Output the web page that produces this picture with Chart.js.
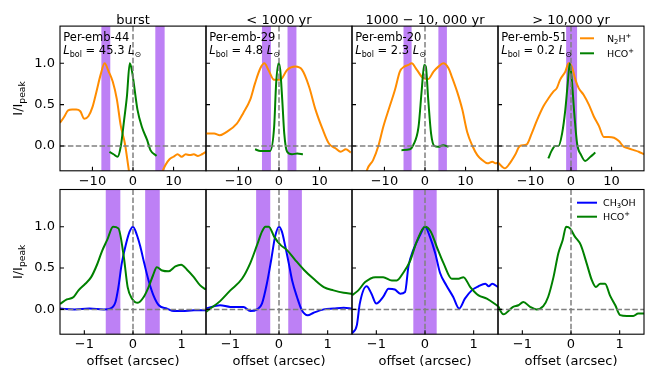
<!DOCTYPE html>
<html>
<head>
<meta charset="utf-8">
<script src="https://cdn.jsdelivr.net/npm/chart.js@4.4.1/dist/chart.umd.min.js"></script>
<style>
  body { margin: 0; background: #fff; }
  #wrap { position: relative; width: 664px; height: 380px; }
  #wrap canvas { position: absolute; left: 0; top: 0; }
</style>
</head>
<body>
<div id="wrap"></div>
<script>
// tick labels
const velTicks = [-10, 0, 10];
const offTicks = [-1, 0, 1];
const normTicks = [0, 0.5, 1];

const stageTitles = ['burst', '< 1000 yr', '1000 \u2212 10, 000 yr', '> 10,000 yr'];
const sourceNames = ['Per-emb-44', 'Per-emb-29', 'Per-emb-20', 'Per-emb-51'];
const lbolValues = ['45.3', '4.8', '2.3', '0.2'];

// top row: spectra vs velocity
const n2hV44 = [-18, -17, -16, -15, -14, -13, -12, -11, -10, -9, -8, -7, -6, -5, -4, -3, -2, -1, 0, 6, 7, 8, 9, 10, 11, 12, 13, 14, 15, 16, 17, 18];
const n2hI44 = [0.28, 0.35, 0.43, 0.44, 0.44, 0.42, 0.33, 0.36, 0.47, 0.66, 0.86, 1.0, 0.9, 0.78, 0.57, 0.24, 0.03, -0.3, -0.6, -0.6, -0.35, -0.23, -0.16, -0.13, -0.1, -0.13, -0.1, -0.11, -0.1, -0.12, -0.1, -0.07];
const hcoV44 = [-5.8, -4.8, -3.8, -3, -2.2, -1.5, -0.8, -0.3, 0.3, 1.1, 2.2, 3.5, 4.3, 5.8];
const hcoI44 = [-0.07, -0.1, -0.13, 0, 0.31, 0.6, 1.0, 0.92, 0.72, 0.44, 0.23, 0.07, -0.05, -0.12];

const n2hV29 = [-18, -16, -14.6, -12.9, -10.4, -8.8, -7.1, -5.9, -4.6, -3.6, -2.6, -1.2, 0.3, 2, 4, 5.7, 7.4, 9, 10.7, 12.3, 14, 15.2, 16.5, 17.7];
const n2hI29 = [0.15, 0.15, 0.13, 0.17, 0.27, 0.4, 0.56, 0.76, 0.94, 1.0, 0.92, 0.8, 0.8, 0.92, 0.96, 0.92, 0.72, 0.44, 0.21, 0.03, -0.03, -0.07, -0.04, -0.08];
const hcoV29 = [-5.9, -4.6, -2.2, -1.2, -0.7, -0.1, 0.3, 0.8, 1.3, 2, 3.2, 4.5, 5.9];
const hcoI29 = [-0.04, -0.06, -0.06, 0.23, 0.76, 1.0, 0.92, 0.56, 0.15, -0.07, -0.1, -0.09, -0.1];

const n2hV20 = [-18, -14.8, -14.3, -12.8, -11.5, -10.3, -8.7, -7.4, -6.2, -5.1, -4.1, -3.3, -2, -0.4, 0.8, 2.1, 3.3, 4.5, 5.8, 6.6, 7.9, 9.2, 10.4, 11.7, 12.9, 14.1, 15.4, 16.6, 17.4, 18];
const n2hI20 = [-0.6, -0.4, -0.29, -0.17, 0, 0.23, 0.48, 0.68, 0.9, 0.96, 0.98, 1.0, 0.92, 0.82, 0.81, 0.9, 0.96, 1.0, 0.94, 0.84, 0.66, 0.44, 0.17, 0, -0.11, -0.17, -0.21, -0.19, -0.21, -0.2];
const hcoV20 = [-5.8, -3.7, -2.9, -1.6, -0.8, -0.2, 0.2, 0.8, 1.5, 2.3, 3.3, 4.5, 5.8];
const hcoI20 = [-0.05, -0.04, 0.01, 0.23, 0.68, 0.98, 0.96, 0.56, 0.15, 0, -0.01, 0.01, -0.01];

const n2hV51 = [-18, -16.3, -15.1, -13.8, -12.6, -10.9, -9.7, -8.4, -6.8, -5.5, -4.3, -3.5, -2.7, -1.4, -0.6, 0.2, 1.1, 1.9, 3.1, 4.4, 5.6, 6.9, 8.1, 9.3, 10.6, 11.8, 13, 14.3, 15.5, 16.7, 18];
const n2hI51 = [-0.2, -0.27, -0.21, -0.11, 0, 0.02, 0.15, 0.31, 0.48, 0.58, 0.66, 0.7, 0.8, 0.9, 1.0, 0.96, 0.8, 0.7, 0.62, 0.5, 0.36, 0.24, 0.11, 0.11, 0.1, 0.06, -0.01, -0.03, -0.05, -0.07, -0.1];
const hcoV51 = [-5.6, -4.7, -3.9, -3.1, -2.2, -1.4, -0.8, -0.3, 0.2, 0.8, 1.5, 2.5, 3.5, 4.8, 6];
const hcoI51 = [-0.15, -0.05, 0, 0, 0.15, 0.44, 0.76, 1.0, 0.8, 0.4, 0.03, -0.11, -0.18, -0.13, -0.08];

// bottom row: profiles vs offset
const hcoX44 = [-1.5, -1.36, -1.22, -1.12, -0.98, -0.86, -0.74, -0.64, -0.53, -0.41, -0.3, -0.19, -0.11, -0.02, 0.1, 0.22, 0.32, 0.41, 0.49, 0.6, 0.73, 0.87, 0.99, 1.11, 1.25, 1.38, 1.5];
const hcoP44 = [0.065, 0.12, 0.15, 0.23, 0.31, 0.39, 0.54, 0.7, 0.84, 1.0, 0.98, 0.64, 0.27, 0.13, 0.08, 0.15, 0.27, 0.41, 0.51, 0.47, 0.46, 0.52, 0.54, 0.48, 0.39, 0.29, 0.24];
const ch3X44 = [-1.5, -1.2, -0.9, -0.6, -0.47, -0.36, -0.3, -0.23, -0.14, -0.07, 0, 0.08, 0.15, 0.23, 0.32, 0.42, 0.53, 0.7, 0.84, 1.01, 1.25, 1.5];
const ch3P44 = [0.01, 0.0, 0.01, 0.0, 0.01, 0.09, 0.27, 0.56, 0.8, 0.94, 1.0, 0.9, 0.76, 0.56, 0.35, 0.17, 0.05, 0.01, -0.02, -0.02, -0.01, -0.01];

const hcoX29 = [-1.5, -1.41, -1.21, -1.0, -0.76, -0.59, -0.45, -0.35, -0.28, -0.21, -0.1, 0.03, 0.16, 0.33, 0.51, 0.71, 0.92, 1.12, 1.33, 1.5];
const hcoP29 = [-0.03, 0.01, 0.1, 0.23, 0.37, 0.56, 0.78, 0.94, 1.0, 1.0, 0.88, 0.78, 0.72, 0.6, 0.48, 0.37, 0.27, 0.23, 0.2, 0.19];
const ch3X29 = [-1.5, -1.21, -1.0, -0.73, -0.59, -0.45, -0.35, -0.25, -0.16, -0.08, 0, 0.06, 0.13, 0.2, 0.27, 0.37, 0.47, 0.59, 0.71, 0.92, 1.12, 1.33, 1.5];
const ch3P29 = [0.01, 0.05, 0.03, 0.03, -0.02, 0, 0.07, 0.31, 0.6, 0.88, 1.0, 0.94, 0.76, 0.56, 0.35, 0.15, -0.01, -0.07, -0.04, 0, 0.01, 0.02, 0.01];

const hcoX20 = [-1.5, -1.37, -1.23, -1.02, -0.86, -0.68, -0.58, -0.45, -0.31, -0.17, 0, 0.12, 0.24, 0.38, 0.55, 0.69, 0.79, 0.93, 1.1, 1.27, 1.5];
const hcoP20 = [0.17, 0.23, 0.33, 0.39, 0.39, 0.35, 0.35, 0.44, 0.58, 0.82, 1.0, 0.94, 0.76, 0.56, 0.37, 0.37, 0.39, 0.27, 0.17, 0.13, 0.04];
const ch3X20 = [-1.5, -1.4, -1.34, -1.2, -1.1, -1.0, -0.86, -0.75, -0.62, -0.51, -0.41, -0.34, -0.24, -0.1, 0, 0.1, 0.21, 0.31, 0.44, 0.58, 0.7, 0.82, 0.96, 1.1, 1.24, 1.31, 1.38, 1.5];
const ch3P20 = [-0.29, -0.19, 0.07, 0.28, 0.19, 0.07, 0.15, 0.25, 0.24, 0.19, 0.21, 0.52, 0.72, 0.9, 1.0, 0.88, 0.68, 0.44, 0.29, 0.15, 0.01, 0.13, 0.23, 0.28, 0.31, 0.28, 0.31, 0.27];

const hcoX51 = [-1.5, -1.39, -1.19, -1.08, -0.98, -0.84, -0.71, -0.57, -0.47, -0.36, -0.26, -0.17, -0.1, -0.02, 0.08, 0.2, 0.32, 0.43, 0.51, 0.6, 0.7, 0.8, 0.91, 1.01, 1.15, 1.28, 1.38, 1.5];
const hcoP51 = [0.04, -0.06, 0.03, 0.05, 0.09, 0.03, 0, 0.04, 0.15, 0.39, 0.68, 0.84, 1.0, 0.98, 0.88, 0.78, 0.56, 0.35, 0.27, 0.31, 0.31, 0.17, 0.05, -0.07, -0.08, -0.08, -0.05, -0.05];

// shaded ranges (data units)
const velBands = [[[-7.8, -5.6], [5.5, 7.8]], [[-4.2, -2.0], [2.1, 4.3]], [[-5.3, -3.3], [3.3, 5.4]], [[-1.2, 1.5]]];
const offBands = [[[-0.56, -0.26], [0.25, 0.55]], [[-0.47, -0.18], [0.19, 0.47]], [[-0.24, 0.24]], []];

// layout
const colLeft = [60, 206, 352, 498];
const panelW = 146;
const rowTop = [26.1, 189.5];
const panelH = 144.7;
const axisH = 44;

const FONT = '"DejaVu Sans"';
Chart.defaults.font.family = FONT;
const orange = '#ff8c00', green = '#008000', blue = '#0000ff';
const bandFill = 'rgb(189,128,245)';

const f = (size, style) => (style ? style + ' ' : '') + size + 'px ' + FONT;

function fmtTick(v) {
  return v < 0 ? '\u2212' + Math.abs(v) : String(v);
}

function drawRich(ctx, x, y, segs) {
  segs.forEach(s => {
    ctx.font = s.f;
    ctx.fillText(s.t, x, y + (s.dy || 0));
    x += ctx.measureText(s.t).width;
  });
}
function richWidth(ctx, segs) {
  let w = 0;
  segs.forEach(s => { ctx.font = s.f; w += ctx.measureText(s.t).width; });
  return w;
}

const LEG = 9.5, LSUB = 6.8;
const n2hLabel = [{t: 'N', f: f(LEG)}, {t: '2', f: f(LSUB), dy: 2}, {t: 'H', f: f(LEG)}, {t: '+', f: f(LSUB), dy: -4}];
const hcoLabel = [{t: 'HCO', f: f(LEG)}, {t: '+', f: f(LSUB), dy: -4}];
const ch3Label = [{t: 'CH', f: f(LEG)}, {t: '3', f: f(LSUB), dy: 2}, {t: 'OH', f: f(LEG)}];

function panelPlugin(meta) {
  return {
    id: 'panel',
    beforeDatasetsDraw(chart) {
      const {ctx, chartArea: a, scales: {x}} = chart;
      ctx.save();
      ctx.fillStyle = bandFill;
      meta.bands.forEach(b => {
        const x0 = x.getPixelForValue(b[0]), x1 = x.getPixelForValue(b[1]);
        ctx.fillRect(x0, a.top, x1 - x0, a.bottom - a.top);
      });
      ctx.restore();
    },
    afterDatasetsDraw(chart) {
      const {ctx, chartArea: a, scales: {x, y}} = chart;
      ctx.save();
      // zero lines
      const y0 = y.getPixelForValue(0), x0 = x.getPixelForValue(0);
      ctx.strokeStyle = 'grey';
      ctx.lineWidth = 1.5;
      ctx.setLineDash([5.5, 2.4]);
      ctx.beginPath();
      ctx.moveTo(a.left, y0); ctx.lineTo(a.right, y0);
      ctx.moveTo(x0, a.top); ctx.lineTo(x0, a.bottom);
      ctx.stroke();
      ctx.setLineDash([]);
      // frame + inward ticks
      ctx.strokeStyle = '#000';
      ctx.lineWidth = 1.1;
      ctx.strokeRect(a.left, a.top, a.right - a.left, a.bottom - a.top);
      ctx.beginPath();
      x.ticks.forEach(t => { const p = x.getPixelForValue(t.value); ctx.moveTo(p, a.bottom); ctx.lineTo(p, a.bottom - 4); });
      y.ticks.forEach(t => { const p = y.getPixelForValue(t.value); ctx.moveTo(a.left, p); ctx.lineTo(a.left + 4, p); });
      ctx.stroke();

      ctx.fillStyle = '#000';
      if (meta.title) {
        ctx.font = f(13);
        ctx.textAlign = 'center';
        ctx.fillText(meta.title, (a.left + a.right) / 2, a.top - 2.5);
      }
      ctx.textAlign = 'left';
      if (meta.src) {
        ctx.font = f(11.5);
        ctx.fillText(meta.src, a.left + 3.3, a.top + 14.6);
        drawRich(ctx, a.left + 3.3, a.top + 28.2, [
          {t: 'L', f: f(11.5, 'italic')}, {t: 'bol', f: f(8), dy: 2.5},
          {t: ' = ' + meta.lbol + ' ', f: f(11.5)},
          {t: 'L', f: f(11.5, 'italic')}, {t: '\u2299', f: f(8), dy: 2.5}
        ]);
      }
      if (meta.legend) {
        const L = meta.legend;
        L.items.forEach((it, i) => {
          const ly = a.top + L.y0 + i * L.dy;
          ctx.strokeStyle = it.color;
          ctx.lineWidth = 2;
          ctx.beginPath();
          ctx.moveTo(a.left + L.x0, ly); ctx.lineTo(a.left + L.x1, ly);
          ctx.stroke();
          drawRich(ctx, a.left + L.xt, ly + 3.5, it.label);
        });
      }
      if (meta.ylabel) {
        const segs = [{t: 'I/I', f: f(13)}, {t: 'peak', f: f(9.2), dy: 3}];
        ctx.translate(22, (a.top + a.bottom) / 2);
        ctx.rotate(-Math.PI / 2);
        drawRich(ctx, -richWidth(ctx, segs) / 2, 0, segs);
      }
      ctx.restore();
    }
  };
}

function toXY(xs, ys) {
  return xs.map((v, i) => ({x: v, y: ys[i]}));
}
function line(xs, ys, color) {
  return {data: toXY(xs, ys), borderColor: color, borderWidth: 2, clip: 0};
}

function buildChart(row, col, datasets, meta) {
  const canvas = document.createElement('canvas');
  canvas.width = 664;
  canvas.height = 380;
  document.getElementById('wrap').appendChild(canvas);
  const left = colLeft[col], top = rowTop[row];
  const xt = row === 0 ? velTicks : offTicks;
  const lim = row === 0 ? 18 : 1.5;
  return new Chart(canvas, {
    type: 'line',
    data: {datasets},
    options: {
      responsive: false,
      animation: false,
      devicePixelRatio: 1,
      layout: {padding: {left: left - 60, top: top, right: 664 - left - panelW, bottom: 380 - top - panelH - axisH}},
      plugins: {legend: {display: false}, tooltip: {enabled: false}},
      elements: {point: {radius: 0}, line: {cubicInterpolationMode: 'monotone'}},
      scales: {
        x: {
          type: 'linear', min: -lim, max: lim,
          afterBuildTicks: s => { s.ticks = xt.map(v => ({value: v})); },
          afterFit: s => { s.height = axisH; },
          grid: {display: false, drawTicks: false},
          border: {display: false},
          ticks: {autoSkip: false, maxRotation: 0, padding: 3, color: '#000', font: {size: 13}, callback: fmtTick},
          title: {display: row === 1, text: 'offset (arcsec)', color: '#000', font: {size: 13}, padding: {top: 0, bottom: 8.5}}
        },
        y: {
          min: -0.3, max: 1.45,
          afterBuildTicks: s => { s.ticks = normTicks.map(v => ({value: v})); },
          afterFit: s => { s.width = 60; },
          grid: {display: false, drawTicks: false},
          border: {display: false},
          ticks: {display: col === 0, padding: 5, color: '#000', font: {size: 13}, callback: v => v.toFixed(1)}
        }
      }
    },
    plugins: [panelPlugin(meta)]
  });
}

const topSeries = [
  [hcoV44, hcoI44, n2hV44, n2hI44],
  [hcoV29, hcoI29, n2hV29, n2hI29],
  [hcoV20, hcoI20, n2hV20, n2hI20],
  [hcoV51, hcoI51, n2hV51, n2hI51]
];
topSeries.forEach((s, c) => {
  buildChart(0, c, [line(s[0], s[1], green), line(s[2], s[3], orange)], {
    bands: velBands[c],
    title: stageTitles[c],
    src: sourceNames[c],
    lbol: lbolValues[c],
    ylabel: c === 0,
    legend: c === 3 ? {x0: 82, x1: 96, xt: 109, y0: 12.2, dy: 15, items: [
      {color: orange, label: n2hLabel}, {color: green, label: hcoLabel}]} : null
  });
});

const botSeries = [
  [hcoX44, hcoP44, ch3X44, ch3P44],
  [hcoX29, hcoP29, ch3X29, ch3P29],
  [hcoX20, hcoP20, ch3X20, ch3P20],
  [hcoX51, hcoP51, null, null]
];
botSeries.forEach((s, c) => {
  const ds = [line(s[0], s[1], green)];
  if (s[2]) ds.push(line(s[2], s[3], blue));
  buildChart(1, c, ds, {
    bands: offBands[c],
    ylabel: c === 0,
    legend: c === 3 ? {x0: 79, x1: 99, xt: 105, y0: 13.2, dy: 14, items: [
      {color: blue, label: ch3Label}, {color: green, label: hcoLabel}]} : null
  });
});
</script>
</body>
</html>
